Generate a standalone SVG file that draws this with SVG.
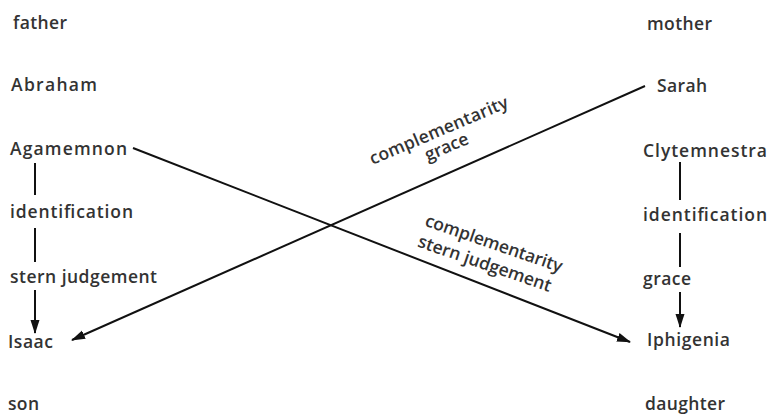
<svg xmlns="http://www.w3.org/2000/svg" width="769" height="414" viewBox="0 0 769 414">
<style>
text{font-family:"Open Sans","DejaVu Sans",sans-serif;font-size:17.5px;font-weight:600;fill:#333;}
.ln{stroke:#111;stroke-width:2;fill:none;}
.lbl{text-anchor:middle;}
</style>
<defs>
<marker id="ah" markerUnits="userSpaceOnUse" markerWidth="14" markerHeight="10" refX="13" refY="5" orient="auto">
<path d="M0,0.5 L14,5 L0,9.5 Z" fill="#111"/>
</marker>
</defs>
<rect width="769" height="414" fill="#fff"/>
<g id="father"><text x="13" y="29" textLength="54" lengthAdjust="spacing">father</text></g>
<g id="mother"><text x="647" y="30" textLength="65" lengthAdjust="spacing">mother</text></g>
<g id="abraham"><text x="11" y="91" textLength="86" lengthAdjust="spacing">Abraham</text></g>
<g id="sarah"><text x="657" y="92" textLength="50" lengthAdjust="spacing">Sarah</text></g>
<g id="agamemnon"><text x="10" y="155" textLength="117" lengthAdjust="spacing">Agamemnon</text></g>
<g id="clytemnestra"><text x="643" y="157" textLength="124" lengthAdjust="spacing">Clytemnestra</text></g>
<g id="identification-left"><text x="10" y="218" textLength="123" lengthAdjust="spacing">identification</text></g>
<g id="identification-right"><text x="643" y="221" textLength="124" lengthAdjust="spacing">identification</text></g>
<g id="stern-judgement"><text x="10" y="283" textLength="147" lengthAdjust="spacing">stern judgement</text></g>
<g id="grace"><text x="643" y="285" textLength="48" lengthAdjust="spacing">grace</text></g>
<g id="isaac"><text x="8" y="348" textLength="45" lengthAdjust="spacing">Isaac</text></g>
<g id="iphigenia"><text x="647" y="346" textLength="83" lengthAdjust="spacing">Iphigenia</text></g>
<g id="son"><text x="8" y="410" textLength="31" lengthAdjust="spacing">son</text></g>
<g id="daughter"><text x="645" y="410" textLength="80" lengthAdjust="spacing">daughter</text></g>
<g id="connectors">
<line class="ln" x1="35" y1="163" x2="35" y2="195"/>
<line class="ln" x1="35" y1="228" x2="35" y2="262"/>
<line class="ln" x1="35" y1="290" x2="35" y2="333" marker-end="url(#ah)"/>
<line class="ln" x1="680" y1="162" x2="680" y2="200"/>
<line class="ln" x1="680" y1="233" x2="680" y2="267"/>
<line class="ln" x1="680" y1="292" x2="680" y2="327" marker-end="url(#ah)"/>
<line class="ln" x1="645" y1="86" x2="72" y2="340" marker-end="url(#ah)"/>
<line class="ln" x1="133" y1="148" x2="630" y2="342" marker-end="url(#ah)"/>
<g transform="translate(441,136) rotate(-23)">
<text class="lbl" x="0" y="0" textLength="149" lengthAdjust="spacing">complementarity</text>
<text class="lbl" x="1" y="18" textLength="46" lengthAdjust="spacing">grace</text>
</g>
<g transform="translate(492,249) rotate(19)">
<text class="lbl" x="0" y="0" textLength="144" lengthAdjust="spacing">complementarity</text>
<text class="lbl" x="-2" y="22" textLength="140" lengthAdjust="spacing">stern judgement</text>
</g>
</g>
</svg>
